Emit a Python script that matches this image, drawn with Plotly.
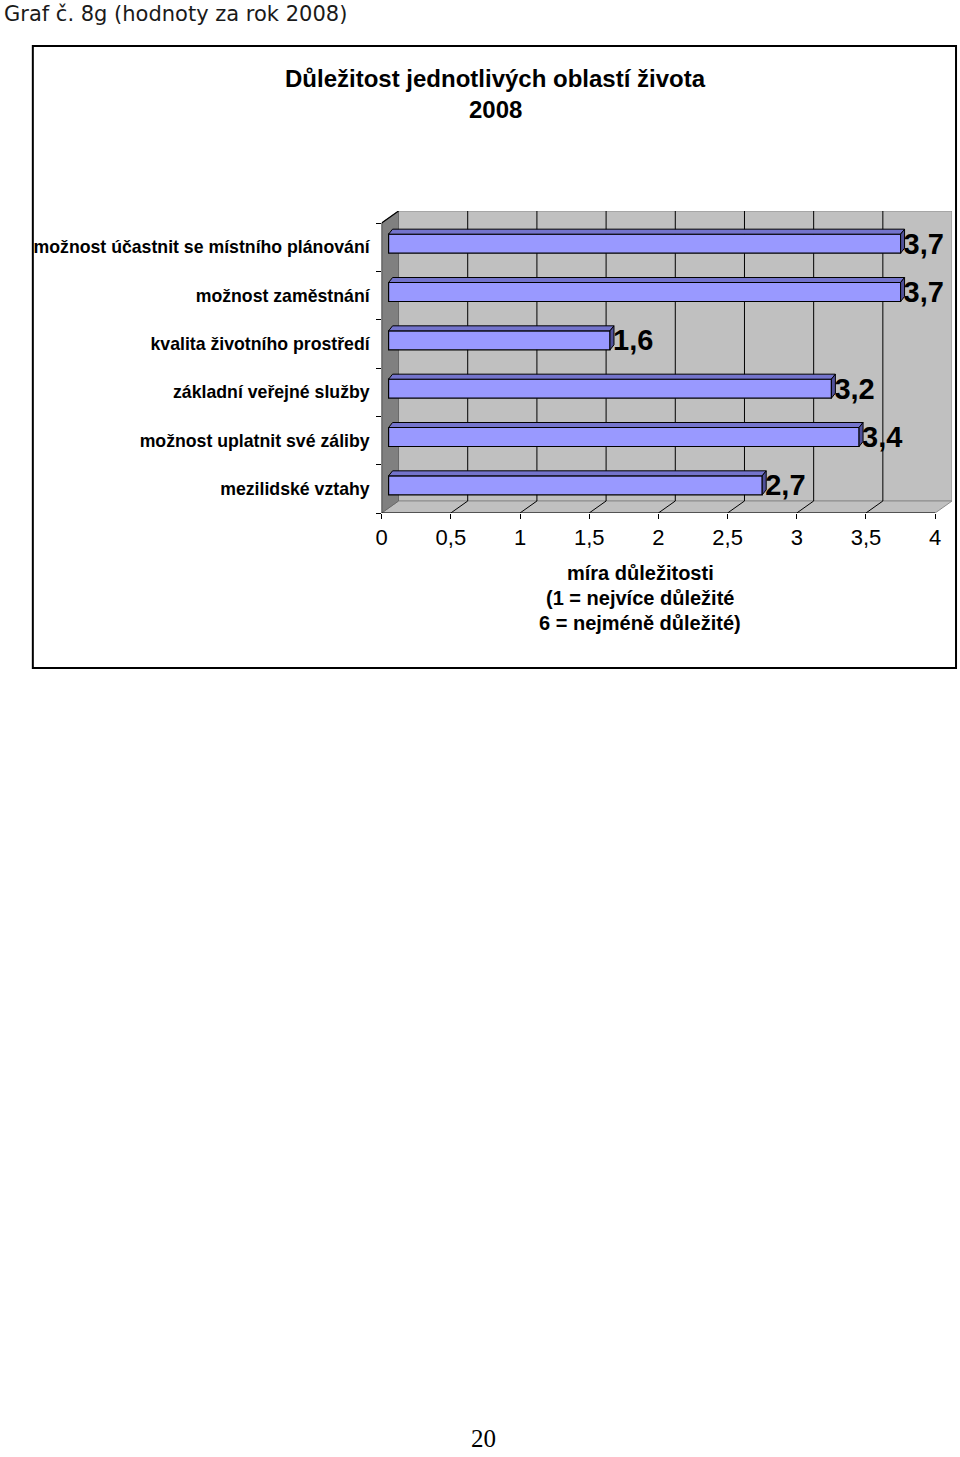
import plotly.graph_objects as go

# ---------------- data ----------------
categories = [
    "možnost účastnit se místního plánování",
    "možnost zaměstnání",
    "kvalita životního prostředí",
    "základní veřejné služby",
    "možnost uplatnit své záliby",
    "mezilidské vztahy",
]
values = [3.7, 3.7, 1.6, 3.2, 3.4, 2.7]
x_ticks = [0, 0.5, 1, 1.5, 2, 2.5, 3, 3.5, 4]
x_tick_labels = ["0", "0,5", "1", "1,5", "2", "2,5", "3", "3,5", "4"]
value_labels = [f"{v:.1f}".replace(".", ",") for v in values]

title_text = "Důležitost jednotlivých oblastí života"
title_year = "2008"
header_text = "Graf č. 8g (hodnoty za rok 2008)"
axis_title_lines = ["míra důležitosti", "(1 = nejvíce důležité", "6 = nejméně důležité)"]
page_number = "20"

# ---------------- geometry (pixels) ----------------
W, H = 960, 1457
PX_X0 = 378.0          # front x = 0
PX_PER_X = 139.25      # pixels per unit on x
PX_RIGHT = 952.0       # right edge of back wall
PX_FRONT_TOP = 223.0
PX_FRONT_BOTTOM = 513.0
PX_BACK_TOP = 211.0
n = len(categories)
PX_PER_Y = (PX_FRONT_BOTTOM - PX_FRONT_TOP) / n
DEPTH_DX = 17.0 / PX_PER_X          # depth offset of back wall, x units
DEPTH_DY = -(PX_FRONT_TOP - PX_BACK_TOP) / PX_PER_Y  # y units (negative = up)
BAR_BASE = 7.0 / PX_PER_X
BAR_WIDTH = 19.0 / PX_PER_Y
BAR_SHIFT = -3.5 / PX_PER_Y
BAR_DDX = 4.0 / PX_PER_X
BAR_DDY = -5.0 / PX_PER_Y

x_max = max(x_ticks)
y_lo, y_hi = -0.5, n - 0.5


def px(x):
    return x / W


def py(y):
    return 1 - y / H


fig = go.Figure()

# front faces of bars
fig.add_trace(go.Bar(
    orientation="h",
    y=list(range(n)),
    x=values,
    base=BAR_BASE,
    width=BAR_WIDTH,
    offset=-BAR_WIDTH / 2 + BAR_SHIFT,
    marker=dict(color="#9999FF", line=dict(color="#000000", width=1.2)),
    text=value_labels,
    textposition="outside",
    textfont=dict(family="Liberation Sans", size=29, color="#000000", weight="bold"),
    constraintext="none",
    cliponaxis=False,
    hoverinfo="skip",
    showlegend=False,
))

# top and side faces (3D look) computed from the values
top_x, top_y, side_x, side_y = [], [], [], []
for i, v in enumerate(values):
    yt = i + BAR_SHIFT - BAR_WIDTH / 2
    yb = i + BAR_SHIFT + BAR_WIDTH / 2
    x0 = BAR_BASE
    x1 = BAR_BASE + v
    top_x += [x0, x0 + BAR_DDX, x1 + BAR_DDX, x1, x0, None]
    top_y += [yt, yt + BAR_DDY, yt + BAR_DDY, yt, yt, None]
    side_x += [x1, x1 + BAR_DDX, x1 + BAR_DDX, x1, x1, None]
    side_y += [yt, yt + BAR_DDY, yb + BAR_DDY, yb, yt, None]

fig.add_trace(go.Scatter(x=top_x, y=top_y, mode="lines", fill="toself",
                         fillcolor="#7474CC", line=dict(color="#000000", width=1),
                         hoverinfo="skip", showlegend=False, cliponaxis=False))
fig.add_trace(go.Scatter(x=side_x, y=side_y, mode="lines", fill="toself",
                         fillcolor="#50509A", line=dict(color="#000000", width=1),
                         hoverinfo="skip", showlegend=False, cliponaxis=False))

shapes = []
# back wall
shapes.append(dict(type="rect", xref="x", yref="y", layer="below",
                   x0=DEPTH_DX, x1=x_max + DEPTH_DX, y0=y_lo + DEPTH_DY, y1=y_hi + DEPTH_DY,
                   fillcolor="#C0C0C0", line=dict(color="#8C8C8C", width=1)))
# floor
shapes.append(dict(type="path", xref="x", yref="y", layer="below",
                   path=f"M0,{y_hi} L{x_max},{y_hi} L{x_max + DEPTH_DX},{y_hi + DEPTH_DY} L{DEPTH_DX},{y_hi + DEPTH_DY} Z",
                   fillcolor="#C0C0C0", line=dict(color="#8C8C8C", width=1)))
# left wall
shapes.append(dict(type="path", xref="x", yref="y", layer="below",
                   path=f"M0,{y_lo} L{DEPTH_DX},{y_lo + DEPTH_DY} L{DEPTH_DX},{y_hi + DEPTH_DY} L0,{y_hi} Z",
                   fillcolor="#808080", line=dict(color="#6A6A6A", width=1)))
# gridlines on back wall and floor
for t in x_ticks[1:-1]:
    shapes.append(dict(type="line", xref="x", yref="y", layer="below",
                       x0=t + DEPTH_DX, x1=t + DEPTH_DX, y0=y_lo + DEPTH_DY, y1=y_hi + DEPTH_DY,
                       line=dict(color="#000000", width=1)))
    shapes.append(dict(type="line", xref="x", yref="y", layer="below",
                       x0=t, x1=t + DEPTH_DX, y0=y_hi, y1=y_hi + DEPTH_DY,
                       line=dict(color="#000000", width=1)))
# front axis lines
shapes.append(dict(type="line", xref="x", yref="y", x0=0, x1=x_max, y0=y_hi, y1=y_hi,
                   line=dict(color="#000000", width=1)))
shapes.append(dict(type="line", xref="x", yref="y", x0=0, x1=0, y0=y_lo, y1=y_hi,
                   line=dict(color="#000000", width=1)))
shapes.append(dict(type="line", xref="x", yref="y", x0=0, x1=DEPTH_DX, y0=y_lo, y1=y_lo + DEPTH_DY,
                   line=dict(color="#000000", width=1.2)))
# outer frame
shapes.append(dict(type="rect", xref="paper", yref="paper",
                   x0=px(27), x1=px(956), y0=py(668), y1=py(46),
                   line=dict(color="#000000", width=2), fillcolor="rgba(0,0,0,0)"))

annotations = [
    dict(text=header_text, x=px(-4), y=py(14), xref="paper", yref="paper",
         xanchor="left", yanchor="middle", showarrow=False,
         font=dict(family="DejaVu Sans", size=21, color="#1a1a1a")),
    dict(text=f"<b>{title_text}</b>", x=px(493), y=py(79), xref="paper", yref="paper",
         xanchor="center", yanchor="middle", showarrow=False,
         font=dict(family="Liberation Sans", size=24, color="#000000")),
    dict(text=f"<b>{title_year}</b>", x=px(493), y=py(110), xref="paper", yref="paper",
         xanchor="center", yanchor="middle", showarrow=False,
         font=dict(family="Liberation Sans", size=24, color="#000000")),
    dict(text=page_number, x=px(480), y=py(1438), xref="paper", yref="paper",
         xanchor="center", yanchor="middle", showarrow=False,
         font=dict(family="Liberation Serif", size=25, color="#000000")),
]
for k, line in enumerate(axis_title_lines):
    annotations.append(dict(text=f"<b>{line}</b>", x=px(638), y=py(573 + 25 * k),
                            xref="paper", yref="paper", xanchor="center", yanchor="middle",
                            showarrow=False,
                            font=dict(family="Liberation Sans", size=20, color="#000000")))

fig.update_layout(
    width=W, height=H,
    margin=dict(l=0, r=0, t=0, b=0),
    paper_bgcolor="#FFFFFF",
    plot_bgcolor="rgba(0,0,0,0)",
    showlegend=False,
    barmode="overlay",
    xaxis=dict(
        domain=[px(PX_X0), px(PX_RIGHT)],
        range=[0, (PX_RIGHT - PX_X0) / PX_PER_X],
        tickmode="array", tickvals=x_ticks, ticktext=x_tick_labels,
        ticks="outside", ticklen=5, tickcolor="#000000", tickwidth=1,
        showgrid=False, zeroline=False, showline=False,
        tickfont=dict(family="Liberation Sans", size=22, color="#000000"),
        fixedrange=True,
    ),
    yaxis=dict(
        domain=[py(PX_FRONT_BOTTOM), py(PX_BACK_TOP)],
        range=[y_hi, y_lo + DEPTH_DY],
        tickmode="array", tickvals=list(range(n)),
        ticktext=[f"<b>{c}</b>" for c in categories],
        ticks="", ticklabelstandoff=11,
        minor=dict(tickmode="array", tickvals=[y_lo + k for k in range(n + 1)],
                   ticks="outside", ticklen=5, tickcolor="#000000", tickwidth=1, showgrid=False),
        showgrid=False, zeroline=False, showline=False,
        tickfont=dict(family="Liberation Sans", size=17.7, color="#000000"),
        fixedrange=True,
    ),
    shapes=shapes,
    annotations=annotations,
)

fig.write_html(
    "out.html",
    config={"displayModeBar": False},
    post_script="document.body.style.margin='0';document.body.style.overflow='hidden';",
)
